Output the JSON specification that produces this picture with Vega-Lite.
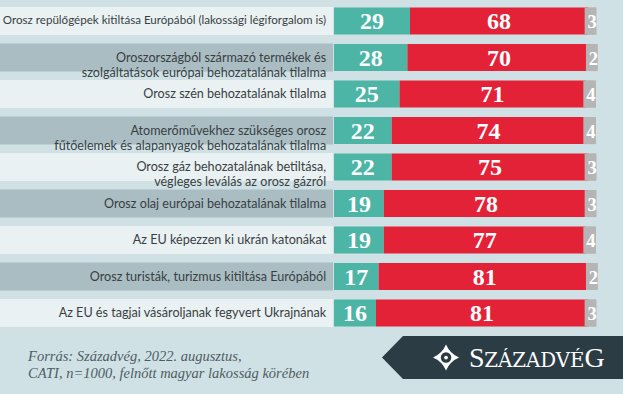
{
  "$schema": "https://vega.github.io/schema/vega-lite/v6.json",
  "width": 623,
  "height": 394,
  "autosize": {"type": "none"},
  "padding": 0,
  "background": "#cfe1e5",
  "config": {"view": {"stroke": null}},
  "datasets": {
    "labels": [
      {"i": 0, "label": "Orosz repülőgépek kitiltása Európából (lakossági légiforgalom is)"},
      {"i": 1, "label": "Oroszországból származó termékek és\nszolgáltatások európai behozatalának tilalma"},
      {"i": 2, "label": "Orosz szén behozatalának tilalma"},
      {"i": 3, "label": "Atomerőművekhez szükséges orosz\nfűtőelemek és alapanyagok behozatalának tilalma"},
      {"i": 4, "label": "Orosz gáz behozatalának betiltása,\nvégleges leválás az orosz gázról"},
      {"i": 5, "label": "Orosz olaj európai behozatalának tilalma"},
      {"i": 6, "label": "Az EU képezzen ki ukrán katonákat"},
      {"i": 7, "label": "Orosz turisták, turizmus kitiltása Európából"},
      {"i": 8, "label": "Az EU és tagjai vásároljanak fegyvert Ukrajnának"}
    ],
    "seg": [
      {"i": 0, "k": "igen", "v": 29}, {"i": 0, "k": "nem", "v": 68}, {"i": 0, "k": "nt", "v": 3},
      {"i": 1, "k": "igen", "v": 28}, {"i": 1, "k": "nem", "v": 70}, {"i": 1, "k": "nt", "v": 2},
      {"i": 2, "k": "igen", "v": 25}, {"i": 2, "k": "nem", "v": 71}, {"i": 2, "k": "nt", "v": 4},
      {"i": 3, "k": "igen", "v": 22}, {"i": 3, "k": "nem", "v": 74}, {"i": 3, "k": "nt", "v": 4},
      {"i": 4, "k": "igen", "v": 22}, {"i": 4, "k": "nem", "v": 75}, {"i": 4, "k": "nt", "v": 3},
      {"i": 5, "k": "igen", "v": 19}, {"i": 5, "k": "nem", "v": 78}, {"i": 5, "k": "nt", "v": 3},
      {"i": 6, "k": "igen", "v": 19}, {"i": 6, "k": "nem", "v": 77}, {"i": 6, "k": "nt", "v": 4},
      {"i": 7, "k": "igen", "v": 17}, {"i": 7, "k": "nem", "v": 81}, {"i": 7, "k": "nt", "v": 2},
      {"i": 8, "k": "igen", "v": 16}, {"i": 8, "k": "nem", "v": 81}, {"i": 8, "k": "nt", "v": 3}
    ]
  },
  "layer": [
    {
      "data": {"name": "labels"},
      "mark": {"type": "bar", "orient": "horizontal", "size": 28},
      "encoding": {
        "x": {"datum": -127.5, "type": "quantitative", "axis": null, "scale": {"domain": [-127.5, 110.3], "nice": false, "zero": false}},
        "x2": {"datum": -0.4},
        "y": {"field": "i", "type": "quantitative", "axis": null, "scale": {"domain": [-0.4407, 10.082], "range": [0, 394], "nice": false, "zero": false}},
        "color": {"condition": {"test": "datum.i % 2 == 1", "value": "#a9bdc3"}, "value": "#e9f1f3"}
      }
    },
    {
      "data": {"name": "labels"},
      "mark": {"type": "text", "align": "right", "baseline": "middle", "font": "Lato", "fontSize": 12.6, "lineHeight": 15.2, "lineBreak": "\n", "color": "#3a3f42"},
      "encoding": {
        "x": {"datum": -3, "type": "quantitative", "axis": null, "scale": {"domain": [-127.5, 110.3], "nice": false, "zero": false}},
        "y": {"field": "i", "type": "quantitative", "axis": null, "scale": {"domain": [-0.4407, 10.082], "range": [0, 394], "nice": false, "zero": false}},
        "text": {"field": "label"},
        "size": {"condition": {"test": "datum.i == 0", "value": 11.6}, "value": 12.6}
      }
    },
    {
      "data": {"name": "seg"},
      "transform": [
        {"stack": "v", "groupby": ["i"], "sort": [{"field": "k"}], "as": ["x0", "x1"]},
        {"calculate": "(datum.x0 + datum.x1) / 2", "as": "xm"}
      ],
      "layer": [
        {
          "mark": {"type": "bar", "orient": "horizontal", "size": 27},
          "encoding": {
            "x": {"field": "x0", "type": "quantitative", "axis": null, "scale": {"domain": [-127.5, 110.3], "nice": false, "zero": false}},
            "x2": {"field": "x1"},
            "y": {"field": "i", "type": "quantitative", "axis": null, "scale": {"domain": [-0.4407, 10.082], "range": [0, 394], "nice": false, "zero": false}},
            "color": {"field": "k", "type": "nominal", "legend": null, "scale": {"domain": ["igen", "nem", "nt"], "range": ["#4db5a6", "#e32237", "#b5b5b5"]}}
          }
        },
        {
          "transform": [{"filter": "datum.k == 'nt'"}],
          "mark": {"type": "point", "filled": true, "opacity": 1, "strokeWidth": 0, "shape": "M -0.44 -1 L 0.44 -1 L 0.44 1 L -0.44 1 Z", "size": 729, "color": "#b5b5b5"},
          "encoding": {
            "x": {"field": "xm", "type": "quantitative", "axis": null, "scale": {"domain": [-127.5, 110.3], "nice": false, "zero": false}},
            "xOffset": {"value": -1.5},
            "y": {"field": "i", "type": "quantitative", "axis": null, "scale": {"domain": [-0.4407, 10.082], "range": [0, 394], "nice": false, "zero": false}}
          }
        },
        {
          "mark": {"type": "text", "align": "center", "baseline": "middle", "dy": 1, "font": "Liberation Serif", "fontWeight": "bold", "color": "white"},
          "encoding": {
            "x": {"field": "xm", "type": "quantitative", "axis": null, "scale": {"domain": [-127.5, 110.3], "nice": false, "zero": false}},
            "xOffset": {"condition": {"test": "datum.k == 'nt'", "value": -1.5}, "value": 0},
            "y": {"field": "i", "type": "quantitative", "axis": null, "scale": {"domain": [-0.4407, 10.082], "range": [0, 394], "nice": false, "zero": false}},
            "text": {"field": "v", "type": "quantitative"},
            "size": {"condition": {"test": "datum.k == 'nt'", "value": 18.5}, "value": 24}
          }
        }
      ]
    },
    {
      "data": {"values": [{"t": "Forrás: Századvég, 2022. augusztus,\nCATI, n=1000, felnőtt magyar lakosság körében"}]},
      "mark": {"type": "text", "align": "left", "baseline": "middle", "font": "Liberation Serif", "fontStyle": "italic", "fontSize": 14.5, "lineHeight": 17, "lineBreak": "\n", "color": "#4e5c62"},
      "encoding": {
        "x": {"datum": -116.8, "type": "quantitative", "axis": null, "scale": {"domain": [-127.5, 110.3], "nice": false, "zero": false}},
        "y": {"datum": 9.215, "type": "quantitative", "axis": null, "scale": {"domain": [-0.4407, 10.082], "range": [0, 394], "nice": false, "zero": false}},
        "text": {"field": "t"}
      }
    },
    {
      "data": {"values": [{"n": "banner"}]},
      "mark": {"type": "point", "filled": true, "opacity": 1, "strokeWidth": 0, "shape": "M 0 0 L 0.977 -1 L 11.3 -1 L 11.3 1 L 0.977 1 Z", "size": 1849, "color": "#2c3c45"},
      "encoding": {
        "x": {"datum": 18.3, "type": "quantitative", "axis": null, "scale": {"domain": [-127.5, 110.3], "nice": false, "zero": false}},
        "y": {"datum": 9.22, "type": "quantitative", "axis": null, "scale": {"domain": [-0.4407, 10.082], "range": [0, 394], "nice": false, "zero": false}}
      }
    },
    {
      "data": {"values": [{"n": "icon"}]},
      "mark": {"type": "point", "filled": true, "opacity": 1, "strokeWidth": 0, "shape": "M 0 -1 Q 0.3 -0.3 1 0 Q 0.3 0.3 0 1 Q -0.3 0.3 -1 0 Q -0.3 -0.3 0 -1 Z", "size": 676, "color": "white"},
      "encoding": {
        "x": {"datum": 42.75, "type": "quantitative", "axis": null, "scale": {"domain": [-127.5, 110.3], "nice": false, "zero": false}},
        "y": {"datum": 9.22, "type": "quantitative", "axis": null, "scale": {"domain": [-0.4407, 10.082], "range": [0, 394], "nice": false, "zero": false}}
      }
    },
    {
      "data": {"values": [{"n": "icon2"}]},
      "mark": {"type": "point", "filled": true, "opacity": 1, "strokeWidth": 0, "shape": "circle", "size": 110, "color": "#2c3c45"},
      "encoding": {
        "x": {"datum": 42.75, "type": "quantitative", "axis": null, "scale": {"domain": [-127.5, 110.3], "nice": false, "zero": false}},
        "y": {"datum": 9.22, "type": "quantitative", "axis": null, "scale": {"domain": [-0.4407, 10.082], "range": [0, 394], "nice": false, "zero": false}}
      }
    },
    {
      "data": {"values": [{"n": "icon3"}]},
      "mark": {"type": "point", "filled": true, "opacity": 1, "strokeWidth": 0, "shape": "circle", "size": 14, "color": "white"},
      "encoding": {
        "x": {"datum": 42.75, "type": "quantitative", "axis": null, "scale": {"domain": [-127.5, 110.3], "nice": false, "zero": false}},
        "y": {"datum": 9.22, "type": "quantitative", "axis": null, "scale": {"domain": [-0.4407, 10.082], "range": [0, 394], "nice": false, "zero": false}}
      }
    },
    {
      "data": {"values": [{"t": "S"}]},
      "mark": {"type": "text", "align": "left", "baseline": "alphabetic", "font": "Liberation Serif", "fontSize": 28, "color": "white"},
      "encoding": {
        "x": {"datum": 51.5, "type": "quantitative", "axis": null, "scale": {"domain": [-127.5, 110.3], "nice": false, "zero": false}},
        "y": {"datum": 9.468, "type": "quantitative", "axis": null, "scale": {"domain": [-0.4407, 10.082], "range": [0, 394], "nice": false, "zero": false}},
        "text": {"field": "t"}
      }
    },
    {
      "data": {"values": [{"t": "ZÁZADVÉ"}]},
      "mark": {"type": "text", "align": "left", "baseline": "alphabetic", "font": "DejaVu Serif", "fontSize": 19.8, "color": "white"},
      "encoding": {
        "x": {"datum": 57.3, "type": "quantitative", "axis": null, "scale": {"domain": [-127.5, 110.3], "nice": false, "zero": false}},
        "y": {"datum": 9.468, "type": "quantitative", "axis": null, "scale": {"domain": [-0.4407, 10.082], "range": [0, 394], "nice": false, "zero": false}},
        "text": {"field": "t"}
      }
    },
    {
      "data": {"values": [{"t": "G"}]},
      "mark": {"type": "text", "align": "right", "baseline": "alphabetic", "font": "Liberation Serif", "fontSize": 28, "color": "white"},
      "encoding": {
        "x": {"datum": 103.3, "type": "quantitative", "axis": null, "scale": {"domain": [-127.5, 110.3], "nice": false, "zero": false}},
        "y": {"datum": 9.468, "type": "quantitative", "axis": null, "scale": {"domain": [-0.4407, 10.082], "range": [0, 394], "nice": false, "zero": false}},
        "text": {"field": "t"}
      }
    }
  ]
}
